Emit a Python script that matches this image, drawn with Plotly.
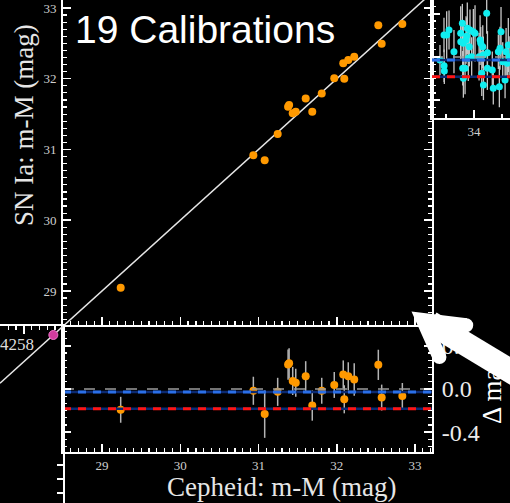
import numpy as np
import plotly.graph_objects as go

W, H = 510, 503

# ---------------- data ----------------
title_text = "19 Calibrations"
ceph_mu = [29.239, 30.934, 31.079, 31.245, 31.378, 31.391, 31.437, 31.476, 31.603, 31.687,
           31.808, 31.968, 32.083, 32.096, 32.147, 32.223, 32.531, 32.574, 32.838]
sn_mu = [29.047, 30.918, 30.847, 31.219, 31.605, 31.629, 31.512, 31.534, 31.721, 31.534,
         31.792, 32.006, 32.218, 32.001, 32.265, 32.312, 32.755, 32.495, 32.774]
resid_err = [0.12, 0.13, 0.22, 0.13, 0.14, 0.14, 0.13, 0.13, 0.14, 0.14,
             0.12, 0.12, 0.13, 0.13, 0.13, 0.15, 0.14, 0.12, 0.12]

anchor_label = "4258"
anchor_ceph = [28.378]
anchor_sn = [28.378]

hf_mu = [33.696, 33.732, 33.756, 33.777, 33.733, 33.735, 33.821, 33.881, 33.896, 33.882,
         33.904, 33.929, 33.935, 33.940, 33.964, 33.994, 34.009, 33.958, 34.054, 34.060,
         34.078, 34.045, 34.083, 34.113, 33.920, 33.899, 33.905, 34.069, 34.084, 34.119,
         34.163, 34.172, 34.226, 34.241, 34.232, 34.256, 34.286, 34.297, 34.306, 34.313,
         34.277, 33.949, 33.979, 34.120, 34.217]
hf_resid = [-0.028, 0.204, 0.204, 0.250, -0.081, -0.130, 0.049, 0.219, 0.312, 0.142,
            0.127, 0.157, 0.194, 0.266, 0.250, 0.234, 0.219, 0.095, 0.157, 0.127,
            0.095, 0.003, 0.019, 0.405, -0.105, -0.105, -0.197, -0.151, -0.259, -0.105,
            -0.120, -0.290, -0.275, 0.234, 0.081, -0.044, 0.049, -0.058, 0.111, 0.003,
            -0.213, -0.012, 0.003, 0.040, 0.049]
hf_err = [0.14, 0.16, 0.22, 0.18, 0.15, 0.12, 0.20, 0.25, 0.18, 0.16,
          0.20, 0.22, 0.17, 0.24, 0.19, 0.21, 0.26, 0.18, 0.23, 0.15,
          0.20, 0.22, 0.17, 0.19, 0.24, 0.16, 0.18, 0.21, 0.14, 0.20,
          0.17, 0.15, 0.19, 0.23, 0.20, 0.18, 0.22, 0.16, 0.25, 0.19,
          0.17, 0.21, 0.18, 0.20, 0.16]

offset_blue = -0.027
offset_red = -0.183

res_tickvals = [-0.4, 0.0, 0.4]
res_ticktext = ["-0.4", "0.0", "0.4"]
left_tickvals = [26.54, 26.343, 26.145]

# axis ranges
X_MAIN = [28.5016, 33.217]
Y_MAIN = [28.519, 33.113]
Y_RES = [-0.583, 0.593]
X_LEFT = [27.6965, 28.5016]
Y_LEFT = [26.003, 28.505]
X_RIGHT = [33.625, 34.321]
Y_RIGHT = [-0.565, 0.528]

resid = list(np.array(sn_mu) - np.array(ceph_mu))

# ---------------- helpers ----------------
def PX(px):
    return px / W

def PY(py):
    return 1 - py / H

ORANGE = "#ff9900"
CYAN = "#10eef0"
NAVY = "#0c2a72"
BLUE = "#2a6fe8"
RED = "#ff1414"
GRAY = "#9a9a9a"
ERR = "#b4b4b4"
SERIF = "Liberation Serif"

fig = go.Figure()

# main panel
fig.add_trace(go.Scatter(x=X_MAIN, y=X_MAIN, mode="lines", line=dict(color="#e6e6e6", width=1.5),
                         xaxis="x", yaxis="y", hoverinfo="skip"))
fig.add_trace(go.Scatter(x=ceph_mu, y=sn_mu, mode="markers", marker=dict(color=ORANGE, size=8),
                         xaxis="x", yaxis="y"))

# residual panel
fig.add_trace(go.Scatter(x=ceph_mu, y=resid, mode="markers", marker=dict(color=ORANGE, size=8),
                         error_y=dict(type="data", array=resid_err, color=ERR, thickness=1.5, width=0),
                         xaxis="x2", yaxis="y2"))

def hlines(xr, xa, ya):
    fig.add_trace(go.Scatter(x=xr, y=[0, 0], mode="lines",
                             line=dict(color=GRAY, width=1.5, dash="11px,10px"), xaxis=xa, yaxis=ya))
    for off, col in ((offset_blue, BLUE), (offset_red, RED)):
        fig.add_trace(go.Scatter(x=xr, y=[off, off], mode="lines",
                                 line=dict(color=NAVY, width=2.5), xaxis=xa, yaxis=ya))
        fig.add_trace(go.Scatter(x=xr, y=[off, off], mode="lines",
                                 line=dict(color=col, width=3, dash="8px,7px"), xaxis=xa, yaxis=ya))

hlines(X_MAIN, "x2", "y2")

# left (anchor) panel
fig.add_trace(go.Scatter(x=X_LEFT, y=X_LEFT, mode="lines", line=dict(color="#e6e6e6", width=1.5),
                         xaxis="x3", yaxis="y3"))
fig.add_trace(go.Scatter(x=anchor_ceph, y=anchor_sn, mode="markers",
                         marker=dict(color="#d23c9e", size=9, line=dict(color="#f070c8", width=1)),
                         xaxis="x3", yaxis="y3"))

# right (Hubble flow) panel
fig.add_trace(go.Scatter(x=hf_mu, y=hf_resid, mode="markers", marker=dict(color=CYAN, size=7),
                         error_y=dict(type="data", array=hf_err, color="#c8c8c8", thickness=1.3, width=0),
                         xaxis="x4", yaxis="y4"))
hlines(X_RIGHT, "x4", "y4")


def minor(**kw):
    m = dict(ticks="inside", ticklen=4, tickcolor="white", tickwidth=1.2)
    m.update(kw)
    return m


def axis(**kw):
    base = dict(showgrid=False, zeroline=False, showline=True, linecolor="white", linewidth=2,
                ticks="inside", tickcolor="white", tickwidth=1.5, ticklen=8, automargin=False,
                tickfont=dict(family=SERIF, size=13, color="#cfcfcf"), minor=minor())
    base.update(kw)
    return base

fig.update_layout(
    width=W, height=H, autosize=False, showlegend=False,
    margin=dict(l=0, r=0, t=0, b=0, pad=0, autoexpand=False),
    paper_bgcolor="black", plot_bgcolor="rgba(0,0,0,0)",
    xaxis=axis(domain=[PX(63), PX(432)], range=X_MAIN, anchor="y", dtick=1, tick0=0,
               minor=minor(dtick=0.1, tick0=0), showticklabels=False),
    yaxis=axis(domain=[PY(325), 1], range=Y_MAIN, anchor="x", dtick=1, tick0=0, mirror="allticks",
               minor=minor(dtick=0.1, tick0=0), ticklabelstandoff=2),
    xaxis2=axis(domain=[PX(63), PX(432)], range=X_MAIN, anchor="y2", dtick=1, tick0=0,
                minor=minor(dtick=0.1, tick0=0)),
    yaxis2=axis(domain=[PY(452), PY(325)], range=Y_RES, anchor="x2", side="right", mirror="allticks",
                tickmode="array", tickvals=res_tickvals, ticktext=res_ticktext,
                tickfont=dict(family=SERIF, size=24, color="#ececec"), ticklabelstandoff=3,
                minor=minor(dtick=0.4 / 6, tick0=0)),
    xaxis3=axis(domain=[0, PX(63)], range=X_LEFT, anchor="y3", side="top", dtick=1, tick0=0,
                showticklabels=False, minor=minor(dtick=0.1, tick0=0)),
    yaxis3=axis(domain=[0, PY(326)], range=Y_LEFT, anchor="x3", side="right", tickmode="array",
                tickvals=left_tickvals, ticklen=6, showticklabels=False, minor=dict(ticks="")),
    xaxis4=axis(domain=[PX(432), 1], range=X_RIGHT, anchor="y4", tickmode="array", tickvals=[34],
                minor=minor(dtick=0.25, tick0=0)),
    yaxis4=axis(domain=[PY(118), 1], range=Y_RIGHT, anchor="x4", tickmode="array",
                tickvals=res_tickvals, showticklabels=False, minor=minor(dtick=0.4 / 6, tick0=0)),
)

# ---------------- text ----------------
ann = [
    dict(text=title_text, x=PX(73), y=PY(30), xanchor="left", yanchor="middle",
         font=dict(family="Liberation Sans", size=39, color="white")),
    dict(text="SN Ia: m-M (mag)", x=PX(24), y=PY(125), textangle=-90, xanchor="center", yanchor="middle",
         font=dict(family=SERIF, size=27, color="#e6e6e6")),
    dict(text="Cepheid: m-M (mag)", x=PX(281), y=PY(487), xanchor="center", yanchor="middle",
         font=dict(family=SERIF, size=27, color="#e6e6e6")),
    dict(text="Δ mag", x=PX(492), y=PY(390), textangle=-90, xanchor="center", yanchor="middle",
         font=dict(family=SERIF, size=27, color="white")),
    dict(text=anchor_label, x=PX(35), y=PY(344), xanchor="right", yanchor="middle", borderpad=0,
         font=dict(family=SERIF, size=17, color="#dddddd")),
]
for a in ann:
    a.update(xref="paper", yref="paper", showarrow=False)
fig.update_layout(annotations=ann)

# ---------------- decorative white arrow ----------------
def unit(deg):
    r = np.radians(deg)
    return np.array([np.cos(r), np.sin(r)])

T = np.array([411.5, 311.5])
t = 14.0
uA, uB = unit(7), unit(66)
nA = np.array([-uA[1], uA[0]])
nB = np.array([uB[1], -uB[0]])
LA, LB = 56.0, 53.0
M = np.column_stack([uA, -uB])
s, r = np.linalg.solve(M, t * (nB - nA))
I = T + t * nA + s * uA
head = [T, T + LA * uA, T + t * nA + LA * uA, I, T + t * nB + LB * uB, T + LB * uB]

def path(pts):
    return "M " + " L ".join(f"{PX(p[0]):.5f},{PY(p[1]):.5f}" for p in pts) + " Z"

d = unit(31)
n = np.array([-d[1], d[0]])
S0, S1 = T + 22 * d, T + 260 * d
hw = 12.0
shaft = [S0 + hw * n, S1 + hw * n, S1 - hw * n, S0 - hw * n]

shapes = [dict(type="path", path=path(head), fillcolor="white", line=dict(width=0)),
          dict(type="path", path=path(shaft), fillcolor="white", line=dict(width=0))]
for c in (T + 0.5 * t * nA + LA * uA, T + 0.5 * t * nB + LB * uB):
    rr = t / 2
    shapes.append(dict(type="circle", x0=PX(c[0] - rr), x1=PX(c[0] + rr), y0=PY(c[1] + rr),
                       y1=PY(c[1] - rr), fillcolor="white", line=dict(width=0)))
for sh in shapes:
    sh.update(xref="paper", yref="paper", layer="above")
fig.update_layout(shapes=shapes)

fig.write_html("out.html", config={"displayModeBar": False, "staticPlot": True},
               post_script="document.body.style.margin='0px';document.body.style.background='black';")
